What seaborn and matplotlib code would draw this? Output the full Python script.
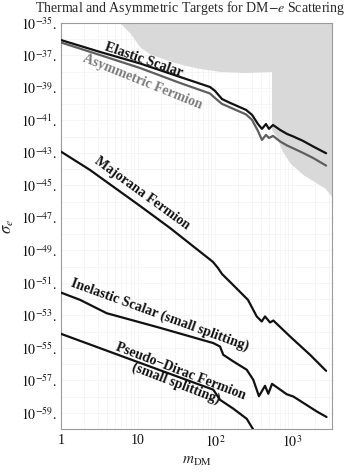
"""
plot.py — Thermal and asymmetric targets for DM-electron scattering
"""

import numpy as np
import pandas as pd
import matplotlib
matplotlib.use("Agg")
import matplotlib.pyplot as plt
import seaborn as sns

# ─── Data (masses in GeV, cross sections as log10 sigma_e) ────────────────────

elastic_m   = [1, 3.2, 10.6, 35, 86, 100, 123, 157, 253, 303, 361, 407, 459,
               502, 566, 698, 861, 1030, 1390, 1875, 2770]
elastic_sig = [-36.05, -36.78, -37.49, -38.32, -38.94, -39.18, -39.68, -39.92,
               -40.35, -40.66, -41.22, -41.52, -41.22, -41.52, -41.28, -41.58,
               -41.83, -41.98, -42.26, -42.60, -43.02]

asym_m   = elastic_m
asym_sig = [-36.20, -36.97, -37.77, -38.69, -39.34, -39.62, -39.98, -40.20,
            -40.63, -40.97, -41.65, -42.20, -41.89, -42.08, -41.95, -42.29,
            -42.54, -42.71, -43.00, -43.31, -43.78]

majorana_m   = [1, 2.38, 10.6, 26, 94, 109, 123, 182, 268, 348, 404, 446, 518,
                572, 942, 1714, 2770]
majorana_sig = [-42.92, -44.05, -46.26, -47.62, -49.71, -50.08, -50.45, -51.25,
                -52.05, -53.07, -53.38, -53.07, -53.44, -53.32, -54.30, -55.43,
                -56.42]

inelastic_m   = [1, 1.77, 3.92, 19.3, 95, 116, 128, 173, 258, 314, 372, 446,
                 492, 550, 853, 1040, 2094, 2805]
inelastic_sig = [-51.60, -52.05, -52.87, -53.77, -54.71, -54.92, -55.43, -55.84,
                 -56.35, -56.97, -57.98, -57.34, -57.83, -57.22, -57.86, -58.00,
                 -58.92, -59.26]

pseudo_m   = [1, 9.7, 95, 116, 173, 258, 321]
pseudo_sig = [-54.14, -55.86, -57.58, -58.20, -58.75, -59.37, -60.11]

# excluded region (filled up to the top of the plot)
excl_m   = [5.84, 7.87, 10.6, 14.3, 23.8, 38.4, 58.4, 116, 245, 542, 542, 633,
            735, 942, 1403, 2094, 2685, 3305]
excl_sig = [-35.0, -35.62, -36.48, -36.91, -37.28, -37.58, -37.77, -37.98,
            -38.05, -37.98, -41.58, -42.0, -42.82, -43.63, -44.35, -44.86,
            -45.17, -45.71]

y_major = list(range(-35, -60, -2))
y_minor = list(range(-36, -61, -2))
x_major = [1, 10, 100, 1000]
x_labels = ["1", "10", r"$10^{2}$", r"$10^{3}$"]

# ─── Style ────────────────────────────────────────────────────────────────────

sns.set_theme(style="white")
plt.rcParams["font.family"] = ["Liberation Serif", "DejaVu Serif"]
plt.rcParams["mathtext.fontset"] = "stix"

GRID  = "#f1f1f1"
SPINE = "#9a9a9a"
SHADE = "#d9d9d9"

fig = plt.figure(figsize=(3.54, 4.72), dpi=100)
ax = fig.add_axes([61 / 354, 1 - 429 / 472, 271 / 354, 406 / 472])

# ─── Excluded region ──────────────────────────────────────────────────────────

ax.fill_between(excl_m, 10.0 ** np.array(excl_sig), 1e-35,
                color=SHADE, lw=0, zorder=1)

# ─── Curves ───────────────────────────────────────────────────────────────────

curves = [
    (elastic_m,   elastic_sig,   "#111111"),
    (asym_m,      asym_sig,      "#5e5e5e"),
    (majorana_m,  majorana_sig,  "#111111"),
    (inelastic_m, inelastic_sig, "#111111"),
    (pseudo_m,    pseudo_sig,    "#111111"),
]
for m, sig, col in curves:
    df = pd.DataFrame({"m": m, "sigma": 10.0 ** np.array(sig)})
    sns.lineplot(data=df, x="m", y="sigma", ax=ax, color=col, lw=1.6,
                 sort=False, estimator=None, zorder=3)

ax.set(xscale="log", yscale="log")
ax.set_xlim(1, 3305)
ax.set_ylim(1e-60, 1e-35)

# ─── Labels on curves ─────────────────────────────────────────────────────────

lab = dict(fontsize=10, fontweight="bold", ha="center", va="center",
           rotation_mode="anchor", zorder=4)
ax.text(11.96, 10 ** -37.28, "Elastic Scalar", rotation=-19, color="#111111", **lab)
ax.text(11.6, 10 ** -38.63, "Asymmetric Fermion", rotation=-22, color="#7a7a7a", **lab)
ax.text(11.4, 10 ** -45.49, "Majorana Fermion", rotation=-36, color="#111111", **lab)
ax.text(19.4, 10 ** -52.97, "Inelastic Scalar (small splitting)", rotation=-20,
        color="#111111", **lab)
ax.text(33.0, 10 ** -56.85, "Pseudo\u2212Dirac Fermion\n(small splitting)", rotation=-21,
        color="#111111", multialignment="center", linespacing=1.0, **lab)

# ─── Axes, ticks, grid ────────────────────────────────────────────────────────

ax.set_yticks([10.0 ** e for e in y_major],
              [r"$10^{%d}$." % e for e in y_major])
ax.set_yticks([10.0 ** e for e in y_minor], minor=True)
ax.set_xticks(x_major, x_labels)
ax.set_xticks([k * d for d in (1, 10, 100, 1000) for k in range(2, 10)
               if k * d < 3305], minor=True)
ax.yaxis.set_minor_formatter(matplotlib.ticker.NullFormatter())
ax.xaxis.set_minor_formatter(matplotlib.ticker.NullFormatter())

ax.grid(True, which="both", color=GRID, lw=0.5, zorder=0)
ax.set_axisbelow(True)
ax.tick_params(which="both", direction="in", color=SPINE, labelsize=10,
               labelcolor="#111111")
ax.tick_params(which="major", length=4, width=0.6)
ax.tick_params(which="minor", length=2.5, width=0.5)
for s in ax.spines.values():
    s.set_color(SPINE)
    s.set_linewidth(0.8)

ax.set_xlabel(r"$m_{\rm DM}$", fontsize=11, labelpad=4)
ax.set_ylabel(r"$\sigma_e$", fontsize=12, labelpad=3)

fig.text(190 / 354, 1 - 8 / 472,
         r"Thermal and Asymmetric Targets for DM$-e$ Scattering",
         ha="center", va="center", fontsize=10)

fig.savefig("out.png", dpi=100)
plt.close()
